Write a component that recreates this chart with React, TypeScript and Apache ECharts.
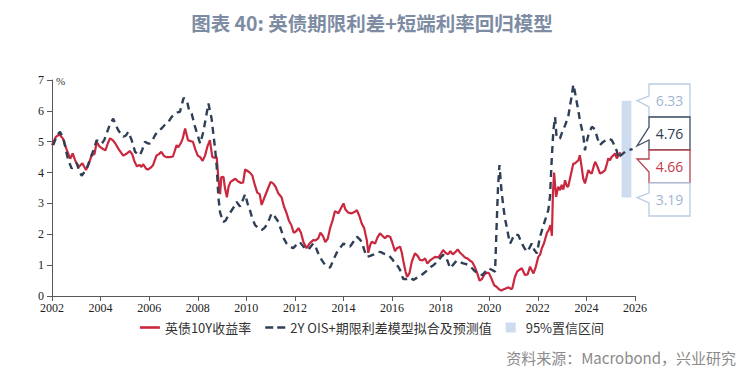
import React, { useEffect, useRef } from "react";
import * as echarts from "echarts";

const TITLE = "图表 40: 英债期限利差+短端利率回归模型";
const SOURCE = "资料来源：Macrobond，兴业研究";
const NAME_GILT = "英债10Y收益率";
const NAME_MODEL = "2Y OIS+期限利差模型拟合及预测值";
const NAME_BAND = "95%置信区间";
const X_TICKS = [2002, 2026, 2]; // min, max, step
const Y_TICKS = [0, 7, 1];

const giltDates = [
  2002.0, 2002.15, 2002.3, 2002.45, 2002.6, 2002.75, 2002.85, 2002.95, 2003.1, 2003.25, 2003.4, 2003.5,
  2003.63, 2003.75, 2003.84, 2003.95, 2004.05, 2004.2, 2004.3, 2004.39, 2004.5, 2004.6, 2004.75, 2004.93,
  2005.05, 2005.2, 2005.3, 2005.4, 2005.5, 2005.6, 2005.68, 2005.75, 2005.88, 2005.95, 2006.05, 2006.16,
  2006.3, 2006.4, 2006.5, 2006.6, 2006.7, 2006.85, 2006.98, 2007.13, 2007.2, 2007.3, 2007.38, 2007.48,
  2007.6, 2007.7, 2007.8, 2007.9, 2008.0, 2008.1, 2008.2, 2008.3, 2008.4, 2008.5, 2008.6, 2008.7,
  2008.78, 2008.85, 2008.92, 2008.97, 2009.06, 2009.12, 2009.2, 2009.27, 2009.35, 2009.45, 2009.55, 2009.65,
  2009.78, 2009.87, 2009.95, 2010.05, 2010.15, 2010.25, 2010.35, 2010.45, 2010.55, 2010.63, 2010.75, 2010.9,
  2011.0, 2011.1, 2011.2, 2011.32, 2011.45, 2011.55, 2011.65, 2011.75, 2011.85, 2011.95, 2012.05, 2012.15,
  2012.25, 2012.35, 2012.48, 2012.6, 2012.75, 2012.85, 2012.96, 2013.05, 2013.15, 2013.25, 2013.35, 2013.45,
  2013.55, 2013.65, 2013.79, 2013.9, 2014.0, 2014.08, 2014.2, 2014.34, 2014.45, 2014.55, 2014.65, 2014.75,
  2014.85, 2014.96, 2015.02, 2015.1, 2015.16, 2015.3, 2015.4, 2015.5, 2015.6, 2015.71, 2015.8, 2015.92,
  2016.0, 2016.12, 2016.2, 2016.33, 2016.4, 2016.46, 2016.55, 2016.62, 2016.72, 2016.81, 2016.94, 2017.05,
  2017.15, 2017.25, 2017.36, 2017.45, 2017.56, 2017.65, 2017.77, 2017.9, 2017.98, 2018.1, 2018.2, 2018.3,
  2018.4, 2018.5, 2018.6, 2018.7, 2018.8, 2018.9, 2019.0, 2019.1, 2019.2, 2019.3, 2019.4, 2019.5,
  2019.6, 2019.7, 2019.8, 2019.9, 2019.98, 2020.1, 2020.2, 2020.3, 2020.4, 2020.5, 2020.6, 2020.7,
  2020.8, 2020.9, 2020.95, 2021.05, 2021.15, 2021.25, 2021.34, 2021.47, 2021.58, 2021.68, 2021.82, 2021.9,
  2022.02, 2022.1, 2022.16, 2022.25, 2022.37, 2022.45, 2022.52, 2022.58, 2022.62, 2022.67, 2022.71, 2022.75,
  2022.84, 2022.92, 2022.98, 2023.05, 2023.12, 2023.2, 2023.25, 2023.35, 2023.46, 2023.53, 2023.6, 2023.67,
  2023.73, 2023.8, 2023.87, 2023.94, 2024.02, 2024.08, 2024.15, 2024.22, 2024.3, 2024.36, 2024.45, 2024.56,
  2024.65, 2024.77, 2024.85, 2024.9, 2024.97, 2025.04, 2025.1, 2025.18, 2025.25, 2025.32, 2025.4,
];
const giltValues = [
  4.89, 5.15, 5.24, 5.1, 4.75, 4.45, 4.62, 4.4, 4.18, 4.3, 4.08, 4.25,
  4.56, 4.6, 5.0, 4.85, 4.79, 4.72, 4.95, 5.11, 5.05, 4.95, 4.75, 4.55,
  4.6, 4.7, 4.6, 4.35, 4.2, 4.25, 4.18, 4.27, 4.12, 4.1, 4.15, 4.24,
  4.55, 4.6, 4.67, 4.55, 4.5, 4.5, 4.52, 4.89, 4.82, 4.95, 5.1, 5.43,
  5.05, 5.02, 5.0, 4.75, 4.55, 4.5, 4.38, 4.55, 4.85, 5.05, 4.5, 4.48,
  4.5, 3.8, 3.3, 3.85, 3.86, 3.5, 3.2, 3.55, 3.7, 3.75, 3.8, 3.72,
  3.66, 3.68, 4.1, 4.05, 4.0, 3.9, 3.6, 3.35, 3.3, 2.95, 3.2, 3.5,
  3.7, 3.65, 3.55, 3.32, 3.2, 2.9, 2.7, 2.45, 2.3, 2.05, 2.1, 2.2,
  2.05, 1.75, 1.55, 1.7, 1.81, 1.8, 1.87, 2.05, 1.95, 1.75, 1.85, 2.2,
  2.45, 2.75, 2.68, 2.85, 3.0, 2.8, 2.7, 2.68, 2.72, 2.78, 2.6, 2.35,
  2.2, 1.81, 1.4, 1.65, 1.76, 1.7, 1.9, 2.03, 1.95, 1.87, 1.95, 1.92,
  1.75, 1.45, 1.55, 1.6, 1.4, 1.15, 0.8, 0.62, 0.75, 1.11, 1.38, 1.3,
  1.17, 1.15, 1.22, 1.05, 1.15, 1.2, 1.27, 1.25, 1.33, 1.49, 1.4, 1.35,
  1.45, 1.35, 1.42, 1.51, 1.4, 1.33, 1.25, 1.22, 1.15, 1.1, 0.95, 0.75,
  0.5, 0.55, 0.7, 0.75, 0.75, 0.55, 0.35, 0.3, 0.22, 0.18, 0.22, 0.25,
  0.28, 0.22, 0.25, 0.6, 0.8, 0.85, 0.9, 0.68, 0.7, 0.95, 0.73, 0.9,
  1.27, 1.35, 1.54, 1.7, 2.03, 2.15, 2.3, 1.95, 3.3, 4.0, 3.6, 3.21,
  3.54, 3.43, 3.6, 3.45, 3.75, 3.55, 3.54, 3.9, 4.29, 4.3, 4.35, 4.4,
  4.56, 4.2, 3.8, 3.65, 3.9, 4.08, 4.0, 3.97, 4.2, 4.35, 4.2, 3.97,
  4.0, 4.08, 4.3, 4.46, 4.4, 4.51, 4.55, 4.62, 4.46, 4.55, 4.66,
];

const modelDates = [
  2002.05, 2002.2, 2002.33, 2002.47, 2002.58, 2002.67, 2002.81, 2002.92, 2003.02, 2003.12, 2003.22, 2003.32,
  2003.43, 2003.53, 2003.63, 2003.74, 2003.84, 2003.95, 2004.05, 2004.15, 2004.25, 2004.38, 2004.52, 2004.62,
  2004.73, 2004.84, 2004.94, 2005.04, 2005.14, 2005.28, 2005.42, 2005.52, 2005.62, 2005.72, 2005.83, 2005.93,
  2006.03, 2006.14, 2006.24, 2006.38, 2006.51, 2006.65, 2006.79, 2006.92, 2007.06, 2007.17, 2007.27, 2007.34,
  2007.42, 2007.55, 2007.65, 2007.75, 2007.89, 2008.0, 2008.1, 2008.23, 2008.34, 2008.44, 2008.57, 2008.65,
  2008.71, 2008.78, 2008.85, 2008.92, 2009.05, 2009.15, 2009.25, 2009.4, 2009.5, 2009.6, 2009.74, 2009.85,
  2009.95, 2010.05, 2010.15, 2010.25, 2010.36, 2010.5, 2010.63, 2010.74, 2010.84, 2010.95, 2011.04, 2011.15,
  2011.32, 2011.45, 2011.55, 2011.66, 2011.8, 2011.93, 2012.05, 2012.2, 2012.35, 2012.48, 2012.6, 2012.75,
  2012.85, 2012.95, 2013.1, 2013.25, 2013.45, 2013.6, 2013.72, 2013.85, 2014.0, 2014.13, 2014.27, 2014.4,
  2014.55, 2014.65, 2014.75, 2014.85, 2014.96, 2015.1, 2015.25, 2015.44, 2015.55, 2015.64, 2015.75, 2015.85,
  2016.0, 2016.12, 2016.25, 2016.33, 2016.46, 2016.6, 2016.75, 2016.87, 2017.0, 2017.1, 2017.29, 2017.4,
  2017.5, 2017.6, 2017.7, 2017.85, 2018.0, 2018.1, 2018.2, 2018.3, 2018.39, 2018.5, 2018.66, 2018.8,
  2018.93, 2019.05, 2019.2, 2019.35, 2019.48, 2019.6, 2019.72, 2019.85, 2019.96, 2020.1, 2020.24, 2020.3,
  2020.36, 2020.42, 2020.5, 2020.58, 2020.65, 2020.72, 2020.8, 2020.86, 2020.95, 2021.05, 2021.2, 2021.34,
  2021.45, 2021.55, 2021.65, 2021.75, 2021.85, 2021.96, 2022.09, 2022.2, 2022.3, 2022.43, 2022.5, 2022.57,
  2022.64, 2022.71, 2022.77, 2022.85, 2022.91, 2023.0, 2023.12, 2023.25, 2023.33, 2023.39, 2023.46, 2023.53,
  2023.6, 2023.67, 2023.73, 2023.8, 2023.87, 2023.94, 2024.01, 2024.08, 2024.15, 2024.22, 2024.29, 2024.36,
  2024.46, 2024.56, 2024.63, 2024.7, 2024.8, 2024.9, 2024.97, 2025.04, 2025.11, 2025.18, 2025.25, 2025.32,
  2025.4, 2025.65, 2025.9,
];
const modelValues = [
  4.89, 5.2, 5.32, 5.11, 4.7, 4.4, 4.13, 4.25, 4.3, 4.05, 3.9, 4.0,
  4.13, 4.35, 4.56, 4.8, 5.05, 5.0, 4.94, 5.05, 5.27, 5.55, 5.75, 5.55,
  5.37, 5.25, 5.16, 5.2, 5.32, 5.05, 4.67, 4.6, 4.56, 4.75, 5.0, 4.95,
  4.94, 5.05, 5.21, 5.35, 5.43, 5.55, 5.64, 5.8, 5.91, 5.95, 5.97, 6.2,
  6.42, 6.34, 6.0, 5.91, 5.48, 5.2, 4.94, 5.32, 5.8, 6.24, 5.75, 5.2,
  4.8, 4.2, 3.2, 2.7, 2.4, 2.45, 2.6, 2.78, 2.9, 3.05, 2.9, 3.1,
  3.3, 3.0, 2.78, 2.5, 2.3, 2.2, 2.14, 2.2, 2.3, 2.5, 2.68, 2.6,
  2.4, 2.1, 1.85, 1.7, 1.6, 1.55, 1.65, 1.75, 1.6, 1.5, 1.55, 1.7,
  1.6, 1.4, 1.17, 1.0, 0.92, 1.2, 1.4, 1.55, 1.7, 1.65, 1.6, 1.75,
  1.92, 1.85, 1.76, 1.5, 1.27, 1.3, 1.35, 1.43, 1.42, 1.38, 1.35, 1.33,
  1.2, 1.06, 0.95, 0.84, 0.55, 0.55, 0.6, 0.52, 0.58, 0.62, 0.73, 0.8,
  0.9, 0.95, 1.0, 1.1, 1.25, 1.33, 1.3, 1.1, 0.9, 1.0, 1.15, 1.1,
  1.06, 1.03, 0.98, 0.85, 0.75, 0.7, 0.68, 0.8, 0.9, 0.85, 0.79, 2.2,
  3.5, 4.24, 3.45, 2.89, 2.5, 2.24, 1.9, 1.7, 1.85, 2.0, 1.97, 1.7,
  1.55, 1.43, 1.55, 1.7, 1.5, 1.38, 1.92, 2.2, 2.46, 2.78, 3.21, 4.4,
  5.37, 5.8, 5.16, 5.1, 5.1, 5.3, 5.53, 5.8, 6.2, 6.45, 6.85, 6.6,
  6.29, 6.0, 5.7, 5.45, 5.21, 4.72, 5.0, 5.21, 5.35, 5.48, 5.45, 5.37,
  5.1, 4.89, 4.95, 5.0, 5.05, 5.1, 5.08, 5.05, 4.95, 4.83, 4.7, 4.46,
  4.55, 4.71, 4.76,
];

const bandDates = [2025.45, 2025.85];
const bandValues = [3.19, 6.33];
const calloutValues = [6.33, 4.76, 4.66, 3.19];

const RED = "#c9283e";
const NAVY = "#2e3f56";
const BAND = "#cddcef";
const LIGHT_BORDER = "#b9cce3";
const LIGHT_TEXT = "#9fb6d3";

const zip = (xs: number[], ys: number[]) => xs.map((x, i) => [x, ys[i]]);

export default function App() {
  const ref = useRef<HTMLDivElement>(null);
  useEffect(() => {
    if (!ref.current) return;
    const chart = echarts.init(ref.current, undefined, { renderer: "svg" });
    const serif = "'Liberation Serif', 'Times New Roman', serif";
    const cjk = "'Noto Sans CJK SC', 'Noto Sans', sans-serif";
    chart.setOption({
      animation: false,
      backgroundColor: "#ffffff",
      title: {
        text: TITLE,
        left: "center",
        top: 8,
        textStyle: { fontFamily: cjk, fontSize: 19.5, fontWeight: "bold", color: "#7d8ca3" },
      },
      grid: { left: 52, right: 109, top: 80, bottom: 87 },
      legend: {
        top: 316,
        left: "center",
        itemGap: 14,
        itemWidth: 20,
        itemHeight: 10,
        textStyle: { fontFamily: cjk, fontSize: 13, color: "#333" },
        data: [
          { name: NAME_GILT, icon: "path://M0,0h20v2.6h-20z", itemStyle: { color: RED } },
          { name: NAME_MODEL, icon: "path://M0,0h8v2.6h-8zM12,0h8v2.6h-8z", itemStyle: { color: NAVY } },
          { name: NAME_BAND, icon: "path://M0,0h1v1h-1z", itemStyle: { color: BAND } },
        ],
      },
      xAxis: {
        type: "value",
        min: X_TICKS[0],
        max: X_TICKS[1],
        interval: X_TICKS[2],
        splitLine: { show: false },
        axisLine: { lineStyle: { color: "#595959", width: 1 } },
        axisTick: { show: true, length: 5, lineStyle: { color: "#595959" } },
        axisLabel: { fontFamily: serif, fontSize: 12, color: "#222", margin: 6, formatter: (v: number) => String(v) },
      },
      yAxis: {
        type: "value",
        min: Y_TICKS[0],
        max: Y_TICKS[1],
        interval: Y_TICKS[2],
        name: "%",
        nameLocation: "end",
        nameGap: -6,
        nameTextStyle: { fontFamily: serif, fontSize: 11, color: "#333", align: "left", padding: [0, 0, 0, 4] },
        splitLine: { show: false },
        axisLine: { show: true, lineStyle: { color: "#595959", width: 1 } },
        axisTick: { show: true, length: 5, lineStyle: { color: "#595959" } },
        axisLabel: { fontFamily: serif, fontSize: 12, color: "#222", margin: 8 },
      },
      series: [
        {
          name: NAME_BAND,
          type: "line",
          data: [],
          itemStyle: { color: BAND },
          markArea: {
            silent: true,
            itemStyle: { color: BAND },
            data: [[{ coord: [bandDates[0], bandValues[0]] }, { coord: [bandDates[1], bandValues[1]] }]],
          },
        },
        {
          name: NAME_GILT,
          type: "line",
          data: zip(giltDates, giltValues),
          showSymbol: false,
          symbol: "none",
          itemStyle: { color: RED },
          lineStyle: { color: RED, width: 2.2 },
          z: 3,
        },
        {
          name: NAME_MODEL,
          type: "line",
          data: zip(modelDates, modelValues),
          showSymbol: false,
          symbol: "none",
          itemStyle: { color: NAVY },
          lineStyle: { color: NAVY, width: 2.4, type: [7, 5] },
          z: 4,
        },
      ],
    });

    // callout boxes (annotation layout), tips pointing at the values
    const boxLeft = 649;
    const boxRight = 690;
    const boxTops = [84, 117, 150, 183];
    const boxH = 33;
    const notch = [
      [12, 23],
      [10, 23],
      [9, 22],
      [10, 20],
    ];
    const styles = [
      { stroke: LIGHT_BORDER, text: LIGHT_TEXT },
      { stroke: "#3e4d63", text: "#2f3d52" },
      { stroke: "#b2424f", text: "#c23a48" },
      { stroke: LIGHT_BORDER, text: LIGHT_TEXT },
    ];
    const elements: any[] = [];
    calloutValues.forEach((v, i) => {
      const py = chart.convertToPixel({ gridIndex: 0 }, [2025.9, v]) as number[];
      const top = boxTops[i];
      const n1 = top + notch[i][0];
      const n2 = top + notch[i][1];
      const tipY = Math.min(Math.max(py[1], n1), n2 + 6);
      const tipX = boxLeft - 12;
      elements.push({
        type: "polygon",
        shape: {
          points: [
            [boxLeft, top],
            [boxRight, top],
            [boxRight, top + boxH],
            [boxLeft, top + boxH],
            [boxLeft, n2],
            [tipX, tipY],
            [boxLeft, n1],
          ],
        },
        style: { fill: "#ffffff", stroke: styles[i].stroke, lineWidth: 1.3 },
        z: 10 + i,
      });
      elements.push({
        type: "text",
        x: (boxLeft + boxRight) / 2,
        y: top + boxH / 2,
        style: {
          text: v.toFixed(2),
          fill: styles[i].text,
          font: "14px 'Open Sans', 'Noto Sans', sans-serif",
          textAlign: "center",
          textVerticalAlign: "middle",
        },
        z: 20,
      });
    });
    elements.push({
      type: "text",
      right: 8,
      top: 350,
      style: {
        text: SOURCE,
        fill: "#8a8a8a",
        font: "15px 'Noto Sans CJK SC', sans-serif",
      },
    });
    chart.setOption({ graphic: elements });

    return () => chart.dispose();
  }, []);
  return <div ref={ref} style={{ position: "fixed", left: 0, top: 0, width: 744, height: 383 }} />;
}
